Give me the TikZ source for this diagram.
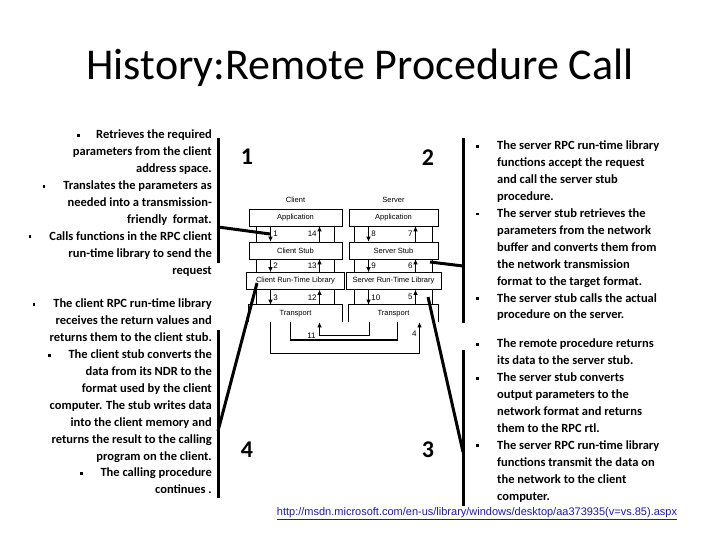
\documentclass[tikz,border=0pt]{standalone}
\usepackage{fontspec}
\setmainfont{Carlito}
\newfontfamily\diagfont{Liberation Sans}
\usetikzlibrary{arrows.meta, calc}
\definecolor{linkblue}{HTML}{1C1CA8}
\newcommand{\sqb}{\raisebox{0.35ex}{\rule{2.8bp}{2.8bp}}}

\begin{document}
\begin{tikzpicture}[x=1bp, y=-1bp,
    every node/.style={inner sep=0pt},
    bodytext/.style={font=\fontsize{12.5bp}{16.9bp}\selectfont\bfseries},
    stepnum/.style={font=\fontsize{24bp}{24bp}\selectfont\bfseries},
    layer/.style={draw, line width=0.6bp, minimum height=17bp, font=\diagfont\fontsize{7.5bp}{8bp}\selectfont},
    flow/.style={-{Latex[length=5bp,width=4.5bp]}, line width=0.7bp},
    numlabel/.style={font=\diagfont\fontsize{8bp}{8bp}\selectfont, inner sep=1.5bp},
    bracket/.style={line width=3bp},
]

% Background
\useasboundingbox (0,0) rectangle (720,540);
\fill[white] (0,0) rectangle (720,540);

% Title
\node[font=\fontsize{44bp}{48bp}\selectfont] (title) at (360,68) {History:Remote Procedure Call};

% === Client column ===
\node[font=\diagfont\fontsize{7.5bp}{8bp}\selectfont] (clientlbl) at (295.5,200) {Client};
\node[layer, minimum width=93bp] (capp) at (295.5,217.5) {Application};
\node[layer, minimum width=93bp] (cstub) at (295.5,250.5) {Client Stub};
\node[layer, minimum width=98bp] (crtl) at (295.5,281) {Client Run-Time Library};
\node[layer, draw=none, minimum width=93bp] (ctrans) at (295.5,313.5) {Transport};

% === Server column ===
\node[font=\diagfont\fontsize{7.5bp}{8bp}\selectfont] (serverlbl) at (393.5,200) {Server};
\node[layer, minimum width=89bp] (sapp) at (393.5,217.5) {Application};
\node[layer, minimum width=89bp] (sstub) at (393.5,250.5) {Server Stub};
\node[layer, minimum width=95bp] (srtl) at (393.5,281) {Server Run-Time Library};
\node[layer, draw=none, minimum width=89bp] (strans) at (393.5,313.5) {Transport};

% open transport boxes
\foreach \t in {ctrans, strans}
  \draw[line width=0.6bp] (\t.south west) -- (\t.north west) -- (\t.north east) -- (\t.south east);

% frame lines between layers
\foreach \a/\b in {capp/cstub, cstub/crtl, crtl/ctrans, sapp/sstub, sstub/srtl, srtl/strans}
{
  \draw[line width=0.6bp] ($(\a.south)+(-39bp,0)$) -- ($(\b.north)+(-39bp,0)$);
  \draw[line width=0.6bp] ($(\a.south)+(39bp,0)$) -- ($(\b.north)+(39bp,0)$);
}

% client calls
\foreach \a/\b/\dn/\upn in {capp/cstub/1/14, cstub/crtl/2/13, crtl/ctrans/3/12}
{
  \draw[flow] ($(\a.south)+(-25bp,0)$) -- node[numlabel, right=1bp] {\dn} ($(\b.north)+(-25bp,0)$);
  \draw[flow] ($(\b.north)+(24bp,0)$) -- node[numlabel, left=1bp] {\upn} ($(\a.south)+(24bp,0)$);
}

% server calls
\foreach \a/\b/\dn/\upn in {sapp/sstub/8/7, sstub/srtl/9/6, srtl/strans/10/5}
{
  \draw[flow] ($(\a.south)+(-25bp,0)$) -- node[numlabel, right=1bp] {\dn} ($(\b.north)+(-25bp,0)$);
  \draw[flow] ($(\b.north)+(22bp,0)$) -- node[numlabel, left=1bp] {\upn} ($(\a.south)+(22bp,0)$);
}

% network
\draw[flow] ($(ctrans.south)+(-25bp,0)$) -- ++(0,-31bp) -| node[numlabel, pos=0.82, left=1bp] {4} ($(strans.south)+(26bp,0)$);
\draw[line width=1.8bp] ($(ctrans.south)+(-5bp,0)$) -- ++(0,-18bp) -| ($(strans.south)+(4bp,0)$);
\draw[flow] ($(strans.south)+(-24bp,0)$) -- ++(0,-13bp) -| node[numlabel, pos=0.5, left=2bp] {11} ($(ctrans.south)+(24bp,0)$);

% step numbers
\node[stepnum] (n1) at (247,157) {1};
\node[stepnum] (n2) at (428,158) {2};
\node[stepnum] (n3) at (428,450) {3};
\node[stepnum] (n4) at (247,450) {4};

% === Step 1 text ===
\node[bodytext, align=right, anchor=north east] (txt1) at (212,130) {%
  \sqb\hspace{16bp}Retrieves the required\\
  parameters from the client\\
  address space.\\
  \sqb\hspace{18bp}Translates the parameters as\\
  needed into a transmission-\\
  friendly\ \ format.\\
  \sqb\hspace{18bp}Calls functions in the RPC client\\
  run-time library to send the\\
  request};

% === Step 4 text ===
\node[bodytext, align=right, anchor=north east] (txt4) at (212,299) {%
  \sqb\hspace{18bp}The client RPC run-time library\\
  receives the return values and\\
  returns them to the client stub.\\
  \sqb\hspace{18bp}The client stub converts the\\
  data from its NDR to the\\
  format used by the client\\
  computer. The stub writes data\\
  into the client memory and\\
  returns the result to the calling\\
  program on the client.\\
  \sqb\hspace{18bp}The calling procedure\\
  continues .};

% === Step 2 text ===
\node[bodytext, align=left, anchor=north west] (txt2) at (476,141) {%
  \makebox[21bp][l]{\sqb}The server RPC run-time library\\
  \hspace*{21bp}functions accept the request\\
  \hspace*{21bp}and call the server stub\\
  \hspace*{21bp}procedure.\\
  \makebox[21bp][l]{\sqb}The server stub retrieves the\\
  \hspace*{21bp}parameters from the network\\
  \hspace*{21bp}buffer and converts them from\\
  \hspace*{21bp}the network transmission\\
  \hspace*{21bp}format to the target format.\\
  \makebox[21bp][l]{\sqb}The server stub calls the actual\\
  \hspace*{21bp}procedure on the server.};

% === Step 3 text ===
\node[bodytext, align=left, anchor=north west] (txt3) at (476,339) {%
  \makebox[21bp][l]{\sqb}The remote procedure returns\\
  \hspace*{21bp}its data to the server stub.\\
  \makebox[21bp][l]{\sqb}The server stub converts\\
  \hspace*{21bp}output parameters to the\\
  \hspace*{21bp}network format and returns\\
  \hspace*{21bp}them to the RPC rtl.\\
  \makebox[21bp][l]{\sqb}The server RPC run-time library\\
  \hspace*{21bp}functions transmit the data on\\
  \hspace*{21bp}the network to the client\\
  \hspace*{21bp}computer.};

% === Brackets ===
\coordinate (ltA) at (218,138); \coordinate (ltB) at (218,263);
\coordinate (ltJ) at (218,227); \coordinate (ltE) at (270,234);
\coordinate (lbA) at (218,330); \coordinate (lbB) at (218,498);
\coordinate (lbJ) at (218,431); \coordinate (lbE) at (257,283);
\coordinate (rtA) at (463,138); \coordinate (rtB) at (463,323);
\coordinate (rtJ) at (463,266); \coordinate (rtE) at (430,262);
\coordinate (rbA) at (463,350); \coordinate (rbB) at (463,506);
\coordinate (rbJ) at (463,452); \coordinate (rbE) at (428,297);
\draw[bracket] (ltA) -- (ltB);
\draw[bracket] (ltJ) -- (ltE);
\draw[bracket] (lbA) -- (lbB);
\draw[bracket] (lbJ) -- (lbE);
\draw[bracket] (rtA) -- (rtB);
\draw[bracket] (rtJ) -- (rtE);
\draw[bracket] (rbA) -- (rbB);
\draw[bracket] (rbJ) -- (rbE);

% Source link
\node[text=linkblue, font=\diagfont\fontsize{11bp}{12bp}\selectfont] (src) at (477,514)
  {\underline{http://msdn.microsoft.com/en-us/library/windows/desktop/aa373935(v=vs.85).aspx}};

\end{tikzpicture}
\end{document}
